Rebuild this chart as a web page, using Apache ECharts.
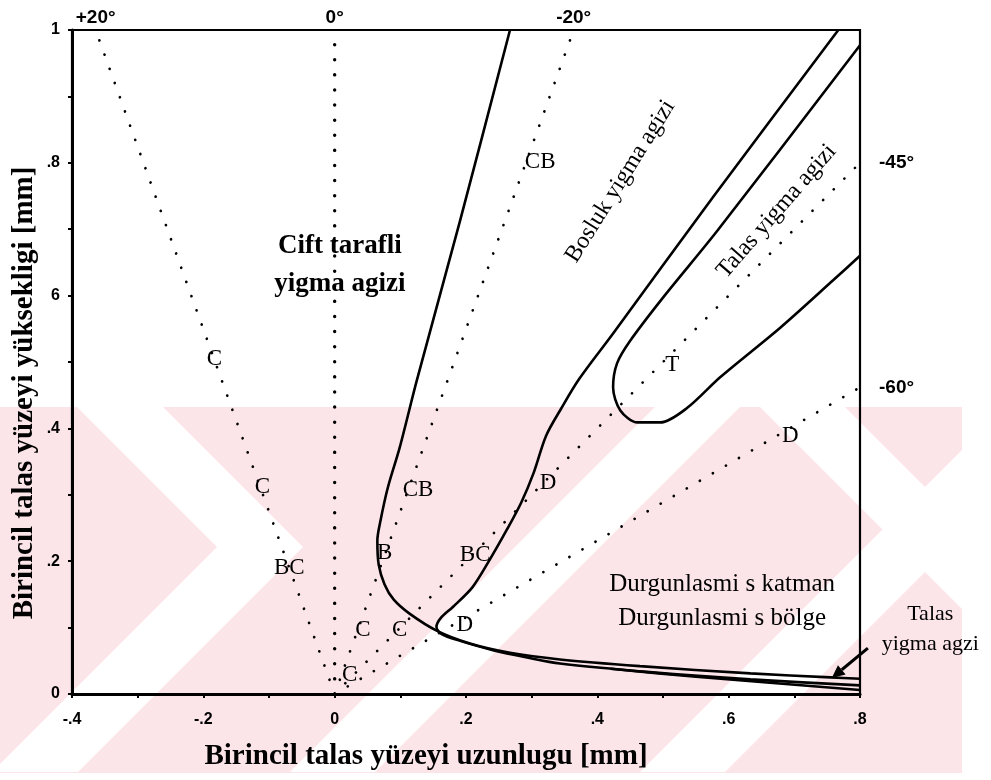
<!DOCTYPE html>
<html>
<head>
<meta charset="utf-8">
<script src="https://cdn.jsdelivr.net/npm/echarts@6/dist/echarts.min.js"></script>
<style>
  html, body { margin: 0; padding: 0; background: #ffffff; }
  #chart { width: 991px; height: 780px; }
</style>
</head>
<body>
<div id="chart"></div>
<script>
// ---- axes -------------------------------------------------------------
const xTickValues = [-0.4, -0.2, 0, 0.2, 0.4, 0.6, 0.8];
const xTickLabels = ['-.4', '-.2', '0', '.2', '.4', '.6', '.8'];
const yTickValues = [0, 0.2, 0.4, 0.6, 0.8, 1];
const yTickLabels = ['0', '.2', '.4', '6', '.8', '1'];

// ---- dotted rays from the tool tip (angle from vertical, + leans left) --
const rayAngles = [20, 0, -20, -45, -60];
const rayAngleLabels = ['+20°', '0°', '-20°', '-45°', '-60°'];

// ---- solid boundary curves [x mm, y mm] --------------------------------
const curveCiftBosluk = [
  [0.267, 1.000], [0.191, 0.713], [0.125, 0.472], [0.099, 0.371], [0.081, 0.311],
  [0.070, 0.262], [0.065, 0.231], [0.067, 0.195], [0.076, 0.165], [0.090, 0.142],
  [0.114, 0.121], [0.156, 0.095], [0.206, 0.076], [0.267, 0.062], [0.343, 0.052],
  [0.465, 0.042], [0.633, 0.031], [0.755, 0.025], [0.800, 0.023]
];
const curveBoslukTalas = [
  [0.767, 1.000], [0.576, 0.748], [0.424, 0.543], [0.372, 0.474], [0.345, 0.430],
  [0.322, 0.389], [0.303, 0.333], [0.284, 0.288], [0.262, 0.247], [0.236, 0.202],
  [0.210, 0.161], [0.180, 0.131], [0.162, 0.115], [0.155, 0.101], [0.163, 0.090],
  [0.191, 0.080], [0.241, 0.066], [0.293, 0.055], [0.343, 0.046], [0.480, 0.033],
  [0.633, 0.022], [0.800, 0.013]
];
const curveBottomInner = [
  [0.420, 0.038], [0.550, 0.026], [0.800, 0.006]
];
const curveTalasLoop = [
  [0.800, 0.977], [0.583, 0.698], [0.500, 0.597], [0.450, 0.532], [0.430, 0.498],
  [0.424, 0.462], [0.435, 0.427], [0.461, 0.409], [0.496, 0.409], [0.537, 0.431],
  [0.587, 0.477], [0.679, 0.552], [0.759, 0.623], [0.800, 0.660]
];

// ---- letters marking the flow regime along the rays --------------------
const zoneNames = ['C', 'C', 'BC', 'C', 'C', 'C', 'B', 'CB', 'BC', 'D', 'D', 'T', 'D', 'CB'];
const zonePoints = [
  [-0.183, 0.504], [-0.110, 0.312], [-0.069, 0.190], [0.023, 0.029], [0.043, 0.097],
  [0.099, 0.097], [0.076, 0.213], [0.127, 0.308], [0.214, 0.210], [0.198, 0.104],
  [0.325, 0.318], [0.514, 0.496], [0.694, 0.388], [0.313, 0.802]
];

// ---- region captions ---------------------------------------------------
const captionTexts = ['Cift tarafli\nyigma agizi', 'Bosluk yigma agizi', 'Talas yigma agizi',
                      'Durgunlasmi s katman\nDurgunlasmi s bölge', 'Talas\nyigma agzi'];
const captionPoints = [[0.008, 0.646], [0.435, 0.772], [0.673, 0.727], [0.590, 0.139], [0.907, 0.098]];
const arrowFrom = [0.812, 0.069];
const arrowTo = [0.757, 0.024];

const xTitle = 'Birincil talas yüzeyi uzunlugu [mm]';
const yTitle = 'Birincil talas yüzeyi yüksekligi [mm]';

// ------------------------------------------------------------------------
const SERIF = '"Liberation Serif", "DejaVu Serif", serif';
const SANS = '"Liberation Sans", Arial, sans-serif';
const INK = '#000000';

function rayEnd(angleDeg) {
  const t = -Math.tan(angleDeg * Math.PI / 180);   // dx per unit height
  if (Math.abs(t) <= 0.8) return [t, 1.0];
  return [0.8, 0.8 / t];
}
const rayEnds = rayAngles.map(rayEnd);

function labelFor(list, values) {
  return function (v) {
    for (let i = 0; i < values.length; i++) {
      if (Math.abs(v - values[i]) < 1e-6) return list[i];
    }
    return '';
  };
}

const series = [];

// dotted rays
rayEnds.forEach(function (end, i) {
  series.push({
    type: 'line', symbol: 'none', silent: true, z: 3,
    data: [[0, 0], end],
    lineStyle: {
      color: INK, width: rayAngles[i] === 0 ? 3.4 : 2.7,
      type: [0.1, 15], cap: 'round', opacity: 1
    }
  });
});

// solid curves
[curveCiftBosluk, curveBoslukTalas, curveBottomInner, curveTalasLoop].forEach(function (c) {
  series.push({
    type: 'line', symbol: 'none', silent: true, smooth: 0.3, z: 4,
    data: c,
    lineStyle: { color: INK, width: 2.6 }
  });
});

const plainItem = { opacity: 1, color: 'transparent' };

// angle labels at the ray ends
series.push({
  type: 'scatter', symbolSize: 0, clip: false, silent: true, z: 5,
  itemStyle: plainItem,
  data: rayEnds.map(function (e, i) {
    const onTop = e[1] >= 0.999;
    return {
      value: onTop ? [e[0], 1.0] : [0.8, e[1]],
      label: {
        show: true, formatter: rayAngleLabels[i],
        position: onTop ? 'top' : 'right', distance: onTop ? 3 : 19,
        color: INK, fontFamily: SANS, fontWeight: 'bold', fontSize: 19
      }
    };
  })
});

// region letters
series.push({
  type: 'scatter', symbolSize: 0, silent: true, z: 5,
  itemStyle: plainItem,
  data: zonePoints.map(function (p, i) {
    return {
      value: p,
      label: {
        show: true, position: 'inside', formatter: zoneNames[i],
        color: INK, fontFamily: SERIF, fontSize: 23
      }
    };
  })
});

// captions
const captionStyles = [
  { fontWeight: 'bold', fontSize: 27, lineHeight: 38 },
  { fontSize: 24, rotate: 58 },
  { fontSize: 24, rotate: 49 },
  { fontSize: 25, lineHeight: 34 },
  { fontSize: 22, lineHeight: 30 }
];
series.push({
  type: 'scatter', symbolSize: 0, clip: false, silent: true, z: 5,
  itemStyle: plainItem,
  data: captionPoints.map(function (p, i) {
    return {
      value: p,
      label: Object.assign({
        show: true, position: 'inside', formatter: captionTexts[i],
        color: INK, fontFamily: SERIF, align: 'center'
      }, captionStyles[i])
    };
  })
});

const chart = echarts.init(document.getElementById('chart'), null, { renderer: 'canvas' });

// pale background stamp in the lower part of the page
const PINK = '#fce5e9';
const stamp = [
  { type: 'rect', z: -2, silent: true, shape: { x: 0, y: 407, width: 962, height: 366 }, style: { fill: PINK } },
  { type: 'polygon', z: -1, silent: true, shape: { points: [[77, 407], [163, 407], [303, 547], [78, 772], [-8, 772], [217, 547]] }, style: { fill: '#ffffff' } },
  { type: 'polygon', z: -1, silent: true, shape: { points: [[290, 772], [375, 772], [740, 407], [655, 407]] }, style: { fill: '#ffffff' } },
  { type: 'polygon', z: -1, silent: true, shape: { points: [[760, 407], [845, 407], [962, 524], [962, 609]] }, style: { fill: '#ffffff' } },
  { type: 'polygon', z: -1, silent: true, shape: { points: [[640, 772], [725, 772], [962, 535], [962, 450]] }, style: { fill: '#ffffff' } }
];

function titles() {
  return [
    {
      type: 'text', silent: true, x: 426, y: 757,
      style: { text: xTitle, fill: INK, font: 'bold 29px ' + SERIF, align: 'center', verticalAlign: 'middle' }
    },
    {
      type: 'text', silent: true, x: 25, y: 393, rotation: Math.PI / 2,
      style: { text: yTitle, fill: INK, font: 'bold 29px ' + SERIF, align: 'center', verticalAlign: 'middle' }
    }
  ];
}

chart.setOption({
  backgroundColor: '#ffffff',
  animation: false,
  grid: {
    left: 72, right: 131, top: 30, bottom: 86,
    show: true, borderColor: INK, borderWidth: 2.2, backgroundColor: 'transparent'
  },
  xAxis: {
    type: 'value', min: -0.4, max: 0.8, interval: 0.1,
    axisLine: { onZero: false, lineStyle: { color: INK, width: 3 } },
    axisTick: { show: true, length: 4, lineStyle: { color: INK, width: 2 } },
    splitLine: { show: false },
    axisLabel: {
      formatter: labelFor(xTickLabels, xTickValues), margin: 18,
      color: INK, fontFamily: SANS, fontWeight: 'bold', fontSize: 16
    }
  },
  yAxis: {
    type: 'value', min: 0, max: 1, interval: 0.1,
    axisLine: { show: true, onZero: false, lineStyle: { color: INK, width: 3 } },
    axisTick: { show: true, length: 4, lineStyle: { color: INK, width: 2 } },
    splitLine: { show: false },
    axisLabel: {
      formatter: labelFor(yTickLabels, yTickValues), margin: 12,
      color: INK, fontFamily: SANS, fontWeight: 'bold', fontSize: 16
    }
  },
  series: series,
  graphic: stamp.concat(titles())
});

// pointer from the outside caption to the thin layer
const pFrom = chart.convertToPixel({ gridIndex: 0 }, arrowFrom);
const pTo = chart.convertToPixel({ gridIndex: 0 }, arrowTo);
const ang = Math.atan2(pTo[1] - pFrom[1], pTo[0] - pFrom[0]);
const head = 13, half = 6;
const bx = pTo[0] - head * Math.cos(ang), by = pTo[1] - head * Math.sin(ang);
chart.setOption({
  graphic: stamp.concat(titles(), [
    {
      type: 'line', silent: true, z: 10,
      shape: { x1: pFrom[0], y1: pFrom[1], x2: bx, y2: by },
      style: { stroke: INK, lineWidth: 3 }
    },
    {
      type: 'polygon', silent: true, z: 10,
      shape: { points: [
        [pTo[0], pTo[1]],
        [bx + half * Math.sin(ang), by - half * Math.cos(ang)],
        [bx - half * Math.sin(ang), by + half * Math.cos(ang)]
      ] },
      style: { fill: INK }
    }
  ])
});
</script>
</body>
</html>
